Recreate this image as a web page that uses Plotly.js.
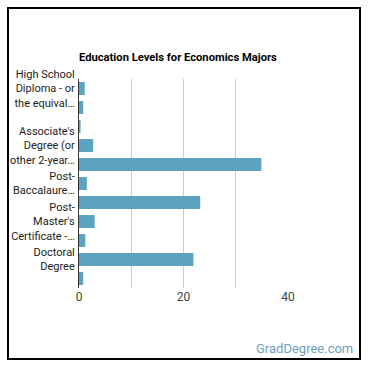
<!DOCTYPE html>
<html>
<head>
<meta charset="utf-8">
<script src="https://cdn.plot.ly/plotly-3.0.1.min.js"></script>
<style>
html,body{margin:0;padding:0;background:#fff;}
#wrap{position:relative;width:370px;height:370px;}
#chart{position:absolute;left:0;top:0;width:370px;height:370px;}
#frame{position:absolute;left:7px;top:7px;width:350px;height:349px;border:2px solid #000;pointer-events:none;}
</style>
</head>
<body>
<div id="wrap"><div id="chart"></div><div id="frame"></div></div>
<script>
const categories = [
  "High School Diploma - or the equivalent (for example: GED)",
  "Post-Secondary Certificate",
  "Some College Courses",
  "Associate's Degree (or other 2-year degree)",
  "Bachelor's Degree",
  "Post-Baccalaureate Certificate",
  "Master's Degree",
  "Post-Master's Certificate - awarded for completion of an organized program of study",
  "First Professional Degree",
  "Doctoral Degree",
  "Post-Doctoral Training"
];
const values = [1.1, 0.8, 0.3, 2.7, 34.9, 1.5, 23.2, 3.0, 1.2, 21.9, 0.8];
const shownTicks = [
  "High School Diploma - or the equivalent (for example: GED)",
  "Associate's Degree (or other 2-year degree)",
  "Post-Baccalaureate Certificate",
  "Post-Master's Certificate - awarded for completion of an organized program of study",
  "Doctoral Degree"
];
const shownTickText = [
  "High School<br>Diploma - or<br>the equival…",
  "Associate's<br>Degree (or<br>other 2-year…",
  "Post-<br>Baccalaure…",
  "Post-<br>Master's<br>Certificate -…",
  "Doctoral<br>Degree"
];
const xTicks = [0, 20, 40];
const xGrid = [0, 10, 20, 30, 40];
const title = "Education Levels for Economics Majors";
const credit = "GradDegree.com";

const trace = {
  type: 'bar',
  orientation: 'h',
  y: categories,
  x: values,
  marker: {color: '#5ba3c0'},
  hoverinfo: 'none'
};

const layout = {
  width: 370, height: 370,
  margin: {l: 79, r: 82, t: 79, b: 82},
  paper_bgcolor: '#fff', plot_bgcolor: '#fff',
  bargap: 0.32,
  showlegend: false,
  font: {family: 'Roboto, Arial, sans-serif', size: 11, color: '#222'},
  title: {
    text: '<b>' + title + '</b>',
    font: {family: 'Roboto, Arial, sans-serif', size: 11.2, color: '#000'},
    x: 0, xanchor: 'left', xref: 'paper',
    y: 1 - 57/370, yanchor: 'middle'
  },
  xaxis: {
    range: [0, 40],
    tickvals: xGrid,
    ticktext: xGrid.map(v => xTicks.includes(v) ? String(v) : ''),
    showgrid: true, gridcolor: '#cccccc', gridwidth: 1,
    zeroline: false, showline: false,
    ticks: '', tickfont: {size: 12, color: '#444'},
    fixedrange: true
  },
  yaxis: {
    type: 'category',
    categoryorder: 'array', categoryarray: categories,
    autorange: 'reversed',
    tickvals: shownTicks, ticktext: shownTickText,
    showgrid: false, zeroline: false,
    showline: true, linecolor: '#333', linewidth: 1,
    ticks: '', ticklabelstandoff: 1,
    tickfont: {size: 11, color: '#222'},
    fixedrange: true
  },
  annotations: [{
    text: credit, xref: 'paper', yref: 'paper',
    x: (355 - 79)/209, y: -(348 - 288)/209,
    xanchor: 'right', yanchor: 'middle', showarrow: false,
    font: {family: 'Roboto, Arial, sans-serif', size: 13, color: '#6d9fbe'}
  }]
};

Plotly.newPlot('chart', [trace], layout, {displayModeBar: false, staticPlot: true});
</script>
</body>
</html>
